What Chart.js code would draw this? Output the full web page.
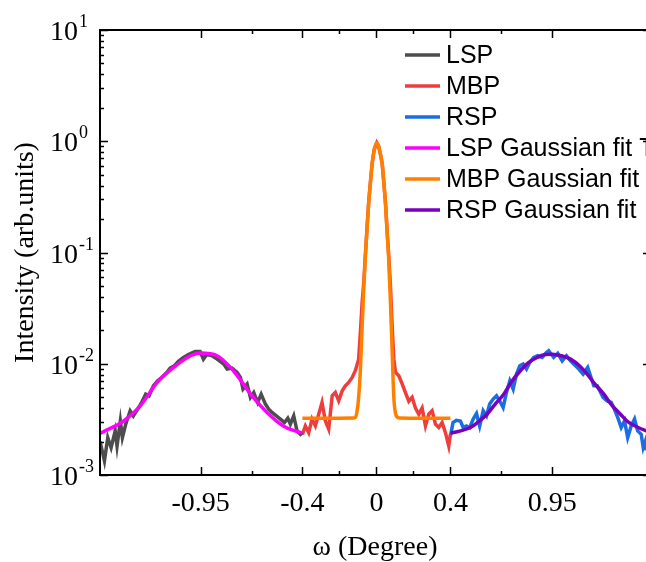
<!DOCTYPE html>
<html lang="en">
<head>
<meta charset="UTF-8">
<title>Rocking curve</title>
<script src="https://cdn.jsdelivr.net/npm/chart.js@4"></script>
<style>
  html, body { margin: 0; padding: 0; background: #fff; }
  #wrap { width: 646px; height: 562px; overflow: hidden; }
</style>
</head>
<body>
<div id="wrap"><canvas id="chart" width="654" height="562"></canvas></div>
<script>
// measured data (omega in degree, intensity in arb. units)
const lspX = [-1.494, -1.488, -1.470, -1.452, -1.434, -1.412, -1.402, -1.384, -1.373, -1.355, -1.331, -1.314, -1.290, -1.269, -1.247, -1.229, -1.205, -1.182, -1.161, -1.133, -1.115, -1.092, -1.070, -1.043, -1.016, -0.980, -0.953, -0.935, -0.917, -0.888, -0.861, -0.825, -0.807, -0.780, -0.753, -0.735, -0.721, -0.699, -0.681, -0.663, -0.642, -0.623, -0.600, -0.582, -0.564, -0.541, -0.519, -0.497, -0.479, -0.465, -0.447, -0.429, -0.411, -0.400];
const lspY = [0.0020, 0.00182, 0.00134, 0.00217, 0.00176, 0.00249, 0.00182, 0.00306, 0.00217, 0.00286, 0.00378, 0.00340, 0.00391, 0.00449, 0.00533, 0.00515, 0.00634, 0.00703, 0.00753, 0.00835, 0.00914, 0.00959, 0.0105, 0.0114, 0.0121, 0.0129, 0.0129, 0.0110, 0.0121, 0.0118, 0.0110, 0.00993, 0.00895, 0.00914, 0.00835, 0.00753, 0.00592, 0.00656, 0.00498, 0.00552, 0.00449, 0.00533, 0.00434, 0.00391, 0.00365, 0.00340, 0.00318, 0.00296, 0.00324, 0.00286, 0.00340, 0.00249, 0.00232, 0.0024];

const mbpX = [-0.400, -0.384, -0.366, -0.348, -0.330, -0.312, -0.294, -0.276, -0.258, -0.239, -0.222, -0.204, -0.185, -0.168, -0.150, -0.131, -0.114, -0.096, -0.086, -0.077, -0.068, -0.059, -0.050, -0.042, -0.032, -0.023, -0.012, 0.002, 0.012, 0.022, 0.031, 0.040, 0.049, 0.057, 0.066, 0.076, 0.085, 0.094, 0.103, 0.121, 0.139, 0.157, 0.175, 0.193, 0.211, 0.229, 0.247, 0.265, 0.283, 0.301, 0.319, 0.337, 0.355, 0.373, 0.391, 0.400];
const mbpY = [0.00232, 0.00276, 0.0024, 0.00318, 0.00276, 0.00352, 0.00449, 0.00306, 0.00258, 0.00515, 0.00552, 0.00464, 0.00571, 0.00634, 0.00679, 0.00753, 0.00865, 0.0110, 0.020, 0.036, 0.055, 0.10, 0.175, 0.28, 0.44, 0.63, 0.84, 0.97, 0.90, 0.76, 0.63, 0.43, 0.28, 0.165, 0.097, 0.05, 0.022, 0.011, 0.0084, 0.0078, 0.0066, 0.0055, 0.0046, 0.0050, 0.0040, 0.00352, 0.0040, 0.00276, 0.00352, 0.00378, 0.00286, 0.00267, 0.00296, 0.0024, 0.00182, 0.00232];

const rspX = [0.400, 0.414, 0.432, 0.454, 0.469, 0.486, 0.504, 0.523, 0.541, 0.558, 0.577, 0.595, 0.612, 0.631, 0.649, 0.666, 0.685, 0.703, 0.721, 0.739, 0.757, 0.775, 0.793, 0.811, 0.829, 0.850, 0.872, 0.896, 0.919, 0.931, 0.958, 0.980, 1.004, 1.027, 1.049, 1.066, 1.094, 1.117, 1.142, 1.160, 1.175, 1.193, 1.207, 1.225, 1.247, 1.269, 1.286, 1.304, 1.323, 1.341, 1.358, 1.377, 1.395, 1.412, 1.431, 1.442, 1.454, 1.459];
const rspY = [0.00224, 0.00296, 0.0031, 0.00306, 0.00267, 0.00276, 0.00267, 0.00318, 0.00357, 0.00276, 0.00378, 0.0034, 0.00434, 0.00481, 0.00515, 0.00464, 0.00404, 0.00552, 0.00703, 0.00592, 0.00807, 0.0096, 0.00993, 0.00895, 0.0103, 0.0114, 0.0118, 0.0114, 0.0126, 0.0131, 0.0114, 0.0124, 0.0106, 0.0118, 0.0106, 0.00993, 0.00895, 0.00807, 0.00927, 0.00753, 0.00634, 0.00634, 0.00571, 0.00498, 0.00464, 0.00449, 0.00391, 0.00329, 0.00267, 0.00306, 0.00217, 0.00276, 0.00318, 0.00249, 0.00232, 0.00176, 0.00202, 0.00167];

// Gaussian fits
const lspFitX = [-1.494, -1.486, -1.366, -1.276, -1.185, -1.096, -1.005, -0.951, -0.861, -0.773, -0.681, -0.591, -0.503, -0.402];
const lspFitY = [0.00236, 0.0024, 0.00306, 0.00419, 0.00679, 0.00927, 0.0118, 0.01248, 0.0118, 0.00865, 0.00537, 0.00365, 0.00276, 0.00238];

const mbpFitX = [-0.400, -0.200, -0.125, -0.114, -0.105, -0.096, -0.086, -0.077, -0.068, -0.059, -0.050, -0.042, -0.032, -0.023, -0.012, 0.002, 0.012, 0.022, 0.031, 0.040, 0.049, 0.057, 0.066, 0.076, 0.085, 0.094, 0.103, 0.114, 0.125, 0.200, 0.400];
const mbpFitY = [0.00324, 0.00324, 0.00325, 0.0033, 0.0037, 0.005, 0.0093, 0.022, 0.05, 0.097, 0.17, 0.275, 0.43, 0.63, 0.84, 0.97, 0.90, 0.76, 0.63, 0.42, 0.275, 0.16, 0.09, 0.035, 0.013, 0.005, 0.0036, 0.0033, 0.00325, 0.00324, 0.00324];

const rspFitX = [0.400, 0.450, 0.508, 0.550, 0.598, 0.640, 0.688, 0.730, 0.778, 0.820, 0.869, 0.910, 0.950, 1.000, 1.049, 1.100, 1.139, 1.180, 1.229, 1.270, 1.319, 1.360, 1.409, 1.484];
const rspFitY = [0.00238, 0.00248, 0.00267, 0.0030, 0.00352, 0.0043, 0.00533, 0.0069, 0.00865, 0.0102, 0.0114, 0.0121, 0.0122, 0.0118, 0.0110, 0.0095, 0.00807, 0.0066, 0.00533, 0.0043, 0.00352, 0.0030, 0.0027, 0.0024];

// axis ticks
const xMajor = [-0.95, -0.4, 0, 0.4, 0.95];
const xLabels = ['-0.95', '-0.4', '0', '0.4', '0.95'];
const xMinor = [-0.675, -0.2, 0.2, 0.675];
const yExp = [-3, -2, -1, 0, 1];

function pts(xs, ys) {
  return xs.map((v, i) => ({ x: v, y: ys[i] }));
}

const serif = '"Liberation Serif", "Times New Roman", serif';
const sans = '"Liberation Sans", Arial, sans-serif';

const decor = {
  id: 'decor',
  afterDraw(chart) {
    const { ctx, chartArea: a, scales: { x, y } } = chart;
    ctx.save();
    ctx.strokeStyle = '#000';
    ctx.fillStyle = '#000';

    const seg = (x1, y1, x2, y2) => {
      ctx.beginPath(); ctx.moveTo(x1, y1); ctx.lineTo(x2, y2); ctx.stroke();
    };

    // tick marks, all pointing inward
    ctx.lineWidth = 1.5;
    xMajor.forEach(v => {
      const px = Math.round(x.getPixelForValue(v)) + 0.5;
      seg(px, a.bottom, px, a.bottom - 8);
      seg(px, a.top, px, a.top + 8);
    });
    xMinor.forEach(v => {
      const px = Math.round(x.getPixelForValue(v)) + 0.5;
      seg(px, a.bottom, px, a.bottom - 4);
      seg(px, a.top, px, a.top + 4);
    });
    yExp.forEach(e => {
      const py = Math.round(y.getPixelForValue(Math.pow(10, e))) + 0.5;
      seg(a.left, py, a.left + 8, py);
      seg(a.right, py, a.right - 8, py);
      if (e < 1) {
        for (let k = 2; k <= 9; k++) {
          const pm = Math.round(y.getPixelForValue(k * Math.pow(10, e))) + 0.5;
          seg(a.left, pm, a.left + 4, pm);
          seg(a.right, pm, a.right - 4, pm);
        }
      }
    });

    // frame
    ctx.lineWidth = 2;
    ctx.strokeRect(a.left, a.top, a.right - a.left, a.bottom - a.top);

    // x tick labels
    ctx.font = '28px ' + serif;
    ctx.textAlign = 'center';
    ctx.textBaseline = 'alphabetic';
    xMajor.forEach((v, i) => {
      ctx.fillText(xLabels[i], x.getPixelForValue(v), 511);
    });

    // y tick labels 10^n
    yExp.forEach(e => {
      const py = y.getPixelForValue(Math.pow(10, e));
      ctx.font = '28px ' + serif;
      ctx.textAlign = 'right';
      ctx.fillText('10', 78, py + 10);
      ctx.font = '18px ' + serif;
      ctx.textAlign = 'left';
      ctx.fillText(String(e), 79, py - 3);
    });

    // axis titles
    ctx.font = '28px ' + serif;
    ctx.textAlign = 'center';
    ctx.fillText('\u03c9 (Degree)', 375, 555);
    ctx.save();
    ctx.translate(26, (a.top + a.bottom) / 2);
    ctx.rotate(-Math.PI / 2);
    ctx.textBaseline = 'middle';
    ctx.fillText('Intensity (arb.units)', 0, 0);
    ctx.restore();

    // legend
    ctx.font = '25px ' + sans;
    ctx.textAlign = 'left';
    ctx.textBaseline = 'middle';
    chart.data.datasets.forEach((ds, i) => {
      const ly = 55 + i * 31;
      ctx.strokeStyle = ds.borderColor;
      ctx.lineWidth = 3.5;
      seg(405, ly, 440, ly);
      ctx.fillStyle = '#000';
      ctx.fillText(ds.label, 446, ly + 1);
    });
    ctx.restore();
  }
};

new Chart(document.getElementById('chart'), {
  type: 'line',
  data: {
    datasets: [
      { label: 'LSP', data: pts(lspX, lspY), borderColor: '#4d4d4d', borderWidth: 3.5, order: 2 },
      { label: 'MBP', data: pts(mbpX, mbpY), borderColor: '#ee3d3d', borderWidth: 3.5, order: 2 },
      { label: 'RSP', data: pts(rspX, rspY), borderColor: '#1a6ee0', borderWidth: 3.5, order: 2 },
      { label: 'LSP Gaussian fit T', data: pts(lspFitX, lspFitY), borderColor: '#ff00ff', borderWidth: 3.5, cubicInterpolationMode: 'monotone', order: 1 },
      { label: 'MBP Gaussian fit', data: pts(mbpFitX, mbpFitY), borderColor: '#ff8000', borderWidth: 3.5, cubicInterpolationMode: 'monotone', order: 1 },
      { label: 'RSP Gaussian fit', data: pts(rspFitX, rspFitY), borderColor: '#7a00bf', borderWidth: 3.5, cubicInterpolationMode: 'monotone', order: 1 }
    ]
  },
  options: {
    responsive: false,
    animation: false,
    devicePixelRatio: 1,
    layout: { padding: { top: 30, right: 3, left: 0, bottom: 0 } },
    elements: { point: { radius: 0 }, line: { tension: 0 } },
    plugins: { legend: { display: false }, tooltip: { enabled: false } },
    scales: {
      x: {
        type: 'linear', min: -1.494, max: 1.484,
        grid: { display: false }, border: { display: false },
        ticks: { display: false },
        afterFit: s => { s.height = 87; }
      },
      y: {
        type: 'logarithmic', min: 0.001, max: 10,
        grid: { display: false }, border: { display: false },
        ticks: { display: false },
        afterFit: s => { s.width = 100; }
      }
    }
  },
  plugins: [decor]
});
</script>
</body>
</html>
